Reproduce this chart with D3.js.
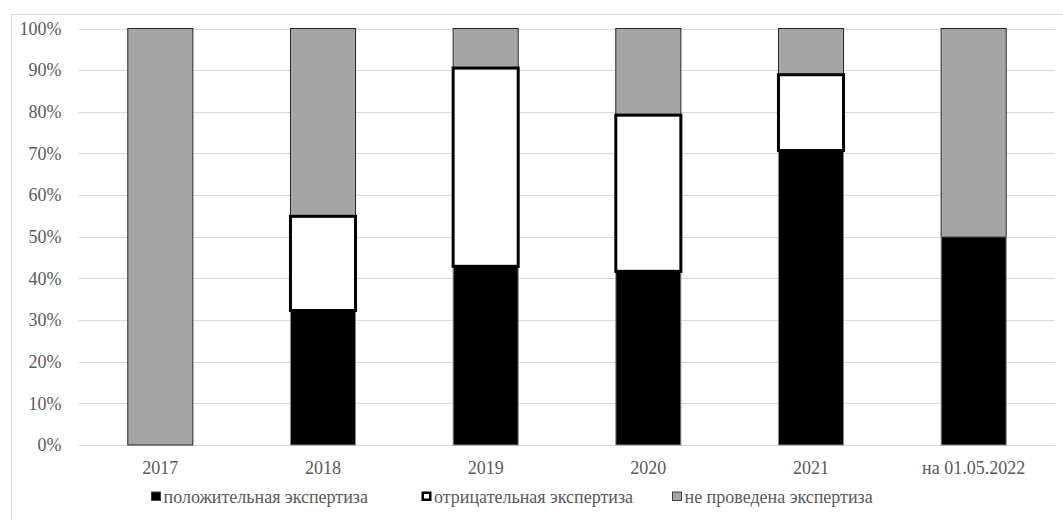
<!DOCTYPE html>
<html>
<head>
<meta charset="utf-8">
<script src="https://cdn.jsdelivr.net/npm/d3@7"></script>
<style>
  html, body { margin: 0; padding: 0; background: #fff; }
  svg { display: block; }
</style>
</head>
<body>
<svg id="chart" width="1063" height="520"></svg>
<script>
// Categories (years) and share of each expertise outcome, %
const categories = ["2017", "2018", "2019", "2020", "2021", "на 01.05.2022"];
const positive   = [0, 32.3, 42.9, 41.7, 70.7, 50];
const negative   = [0, 22.6, 47.6, 37.5, 18.2, 0];
const notDone    = [100, 45.1, 9.5, 20.8, 11.1, 50];
const yTicks     = [0, 10, 20, 30, 40, 50, 60, 70, 80, 90, 100];
const seriesNames = ["положительная экспертиза", "отрицательная экспертиза", "не проведена экспертиза"];
const seriesKeys  = ["pos", "neg", "none"];

const rows = categories.map((c, i) => ({ cat: c, pos: positive[i], neg: negative[i], none: notDone[i] }));

const FONT = '"Liberation Serif", "Times New Roman", serif';
const TEXT_COLOR = "#595959";
const FONT_SIZE = "18px";

const svg = d3.select("#chart");
const plotLeft = 79, plotRight = 1055, plotTop = 28.5, plotBottom = 445;

// Outer chart frame
svg.append("rect")
  .attr("x", 11.5).attr("y", 14.5)
  .attr("width", 1060).attr("height", 520)
  .attr("fill", "none").attr("stroke", "#d9d9d9").attr("stroke-width", 1);

const x = d3.scaleBand()
  .domain(categories)
  .range([plotLeft, plotRight])
  .paddingInner(0.6).paddingOuter(0.3);

const y = d3.scaleLinear()
  .domain([0, 100])
  .range([plotBottom, plotTop]);

// Horizontal gridlines
svg.append("g")
  .selectAll("line")
  .data(yTicks)
  .join("line")
  .attr("x1", plotLeft).attr("x2", plotRight)
  .attr("y1", d => Math.round(y(d)) + 0.5).attr("y2", d => Math.round(y(d)) + 0.5)
  .attr("stroke", "#d9d9d9").attr("stroke-width", 1);

function styleText(sel) {
  sel.style("font-family", FONT).style("font-size", FONT_SIZE).style("fill", TEXT_COLOR);
}

// Y axis labels
const yAxis = d3.axisLeft(y).tickValues(yTicks).tickFormat(d => d + "%").tickSize(0).tickPadding(0);
const gy = svg.append("g").attr("transform", "translate(61.5,0)").call(yAxis);
gy.select(".domain").remove();
gy.selectAll("text").call(styleText);

// X axis labels
const xAxis = d3.axisBottom(x).tickSize(0).tickPadding(0);
const gx = svg.append("g").attr("transform", "translate(0,474)").call(xAxis);
gx.select(".domain").remove();
gx.selectAll("text").attr("dy", 0).call(styleText);

// Stacked bars
const stacked = d3.stack().keys(seriesKeys)(rows);

const styles = {
  pos:  { fill: "#000000", stroke: "#8c8c8c", sw: 1 },
  neg:  { fill: "#ffffff", stroke: "#000000", sw: 3 },
  none: { fill: "#a5a5a5", stroke: "#262626", sw: 1 }
};

// Grey and black segments first, white segments last so their thick outlines stay on top
const drawOrder = ["none", "pos", "neg"];
drawOrder.forEach(key => {
  const layer = stacked.find(s => s.key === key);
  svg.append("g")
    .selectAll("rect")
    .data(layer.filter(d => d[1] - d[0] > 0))
    .join("rect")
    .attr("x", d => x(d.data.cat))
    .attr("width", x.bandwidth())
    .attr("y", d => y(d[1]))
    .attr("height", d => y(d[0]) - y(d[1]))
    .attr("fill", styles[key].fill)
    .attr("stroke", styles[key].stroke)
    .attr("stroke-width", styles[key].sw);
});

// Legend
const legendX = [151, 421.5, 672];
const lg = svg.append("g");
seriesKeys.forEach((key, i) => {
  const g = lg.append("g").attr("transform", `translate(${legendX[i]},491.5)`);
  const s = key === "neg" ? 2.5 : 1;
  g.append("rect")
    .attr("x", s / 2).attr("y", s / 2)
    .attr("width", 10 - s).attr("height", 9.5 - s)
    .attr("fill", styles[key].fill)
    .attr("stroke", key === "pos" ? "#333" : "#333")
    .attr("stroke-width", s)
    .attr("stroke", key === "neg" ? "#000" : "#404040");
  g.append("text")
    .attr("x", 12.5).attr("y", 11.5)
    .call(styleText)
    .text(seriesNames[i]);
});
</script>
</body>
</html>
